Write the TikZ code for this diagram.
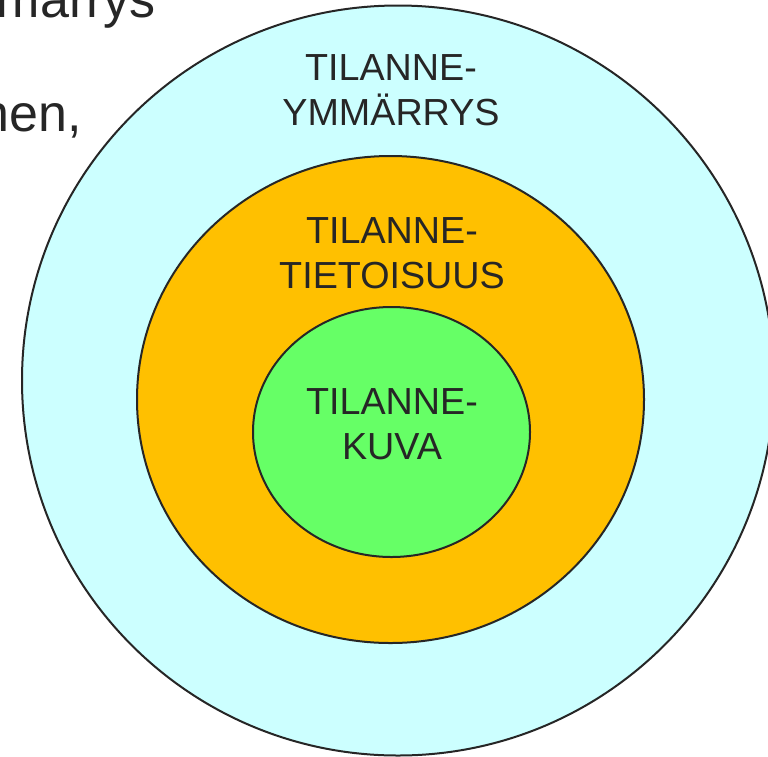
\documentclass[tikz,border=0pt]{standalone}
\usepackage{fontspec}
\setmainfont{Liberation Sans}
\usepackage{xcolor}
\definecolor{outerfill}{HTML}{CCFFFF}
\definecolor{middlefill}{HTML}{FFC000}
\definecolor{innerfill}{HTML}{66FF66}
\definecolor{inkgray}{HTML}{262626}

\begin{document}
\begin{tikzpicture}[
    x=1pt, y=-1pt,
    ring/.style={draw=inkgray, line width=2pt},
    label/.style={text=inkgray, align=center, inner sep=0pt, font=\fontsize{37.7}{45}\selectfont},
    bgtext/.style={text=inkgray, inner sep=0pt, font=\fontsize{52}{60}\selectfont}
  ]
    \useasboundingbox (0,0) rectangle (768,756);
    \clip (0,0) rectangle (768,756);

    % slide text behind the circles
    \node[bgtext, anchor=base east] (textone) at (156,17) {mmärrys};
    \node[bgtext, anchor=base east] (texttwo) at (82,131) {nen,};

    % nested rings
    \draw[ring, fill=outerfill] (398,380.5) ellipse [x radius=376, y radius=375];
    \draw[ring, fill=middlefill] (390.5,399.5) ellipse [x radius=253.5, y radius=243.5];
    \draw[ring, fill=innerfill] (391.5,432) ellipse [x radius=138.5, y radius=125];

    \node[label, anchor=base] (ymmarrys) at (391,125) {TILANNE-\\YMMÄRRYS};
    \node[label, anchor=base] (tietoisuus) at (392,288) {TILANNE-\\TIETOISUUS};
    \node[label, anchor=base] (kuva) at (392,459) {TILANNE-\\KUVA};
\end{tikzpicture}
\end{document}
